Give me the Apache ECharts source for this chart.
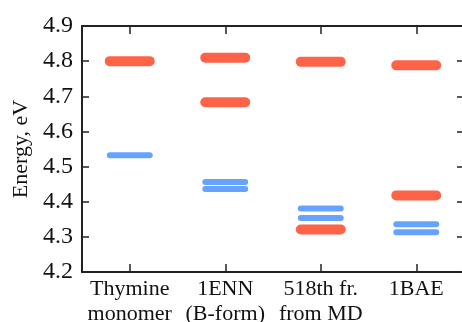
<!DOCTYPE html>
<html>
<head>
<meta charset="utf-8">
<script src="https://cdn.jsdelivr.net/npm/echarts@6/dist/echarts.min.js"></script>
<style>html,body{margin:0;padding:0;background:#fff;}#c{width:462px;height:322px;}</style>
</head>
<body>
<div id="c"></div>
<script>
const categories = ['Thymine\nmonomer', '1ENN\n(B-form)', '518th fr.\nfrom MD', '1BAE'];
const redLevels = [[4.800], [4.810, 4.683], [4.798, 4.321], [4.788, 4.418]];
const blueLevels = [[4.532], [4.456, 4.436], [4.381, 4.354], [4.336, 4.313]];
const yMin = 4.2, yMax = 4.9, yStep = 0.1;
const yName = 'Energy, eV';

function toPoints(levels) {
  const pts = [];
  levels.forEach((vals, i) => vals.forEach(v => pts.push([i, v])));
  return pts;
}
function levelRenderer(color, width) {
  return function (params, api) {
    const p = api.coord([api.value(0), api.value(1)]);
    const bw = api.size([1, 0])[0];
    const half = bw * 0.209;
    return {
      type: 'line',
      shape: { x1: p[0] - half, y1: p[1], x2: p[0] + half, y2: p[1] },
      style: { stroke: color, lineWidth: width, lineCap: 'round' }
    };
  };
}
const font = 'Liberation Serif';
const axisLine = { show: true, lineStyle: { color: '#222', width: 2 } };
const chart = echarts.init(document.getElementById('c'), null, { renderer: 'canvas' });
chart.setOption({
  animation: false,
  backgroundColor: '#fff',
  textStyle: { fontFamily: font },
  grid: { left: 82, right: -2, top: 26, bottom: 50, containLabel: false, outerBoundsMode: 'none' },
  xAxis: [
    {
      type: 'category', data: categories, position: 'bottom', boundaryGap: true,
      axisLine: axisLine,
      axisTick: { show: true, inside: true, alignWithLabel: true, length: 8, lineStyle: { color: '#222', width: 1.5 } },
      axisLabel: { fontFamily: font, fontSize: 22, color: '#111', lineHeight: 25, margin: 5, interval: 0 },
      splitLine: { show: false }
    },
    {
      type: 'category', data: categories, position: 'top', boundaryGap: true,
      axisLine: axisLine,
      axisTick: { show: true, inside: true, alignWithLabel: true, length: 8, lineStyle: { color: '#222', width: 1.5 } },
      axisLabel: { show: false },
      splitLine: { show: false }
    }
  ],
  yAxis: [
    {
      type: 'value', min: yMin, max: yMax, interval: yStep, position: 'left',
      name: yName, nameLocation: 'middle', nameGap: 49, nameRotate: 90,
      nameTextStyle: { fontFamily: font, fontSize: 22, color: '#111' },
      axisLine: axisLine,
      axisTick: { show: true, inside: true, length: 7, lineStyle: { color: '#222', width: 1.5 } },
      axisLabel: {
        fontFamily: font, fontSize: 24, color: '#111', margin: 9,
        formatter: v => '{n|' + v.toFixed(1) + '}',
        rich: { n: { fontFamily: font, fontSize: 24, color: '#111' } }
      },
      splitLine: { show: false }
    },
    {
      type: 'value', min: yMin, max: yMax, interval: yStep, position: 'right',
      axisLine: { show: false },
      axisTick: { show: true, inside: true, length: 7, lineStyle: { color: '#222', width: 1.5 } },
      axisLabel: { show: false },
      splitLine: { show: false }
    }
  ],
  series: [
    { type: 'custom', xAxisIndex: 0, yAxisIndex: 0, renderItem: levelRenderer('#FF6347', 10), data: toPoints(redLevels), clip: false },
    { type: 'custom', xAxisIndex: 0, yAxisIndex: 0, renderItem: levelRenderer('#66A3FF', 6), data: toPoints(blueLevels), clip: false }
  ]
});
</script>
</body>
</html>
